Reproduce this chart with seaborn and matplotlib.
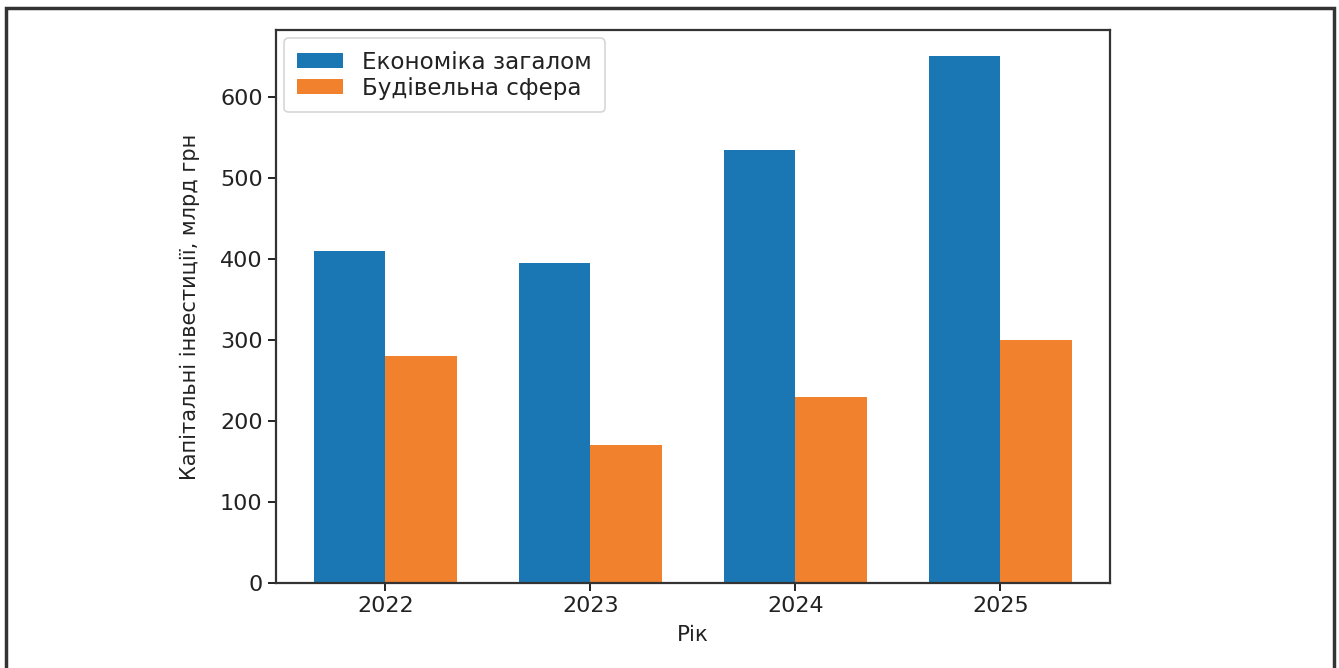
import matplotlib
matplotlib.use("Agg")
import matplotlib.pyplot as plt
from matplotlib.patches import Rectangle
import pandas as pd
import seaborn as sns

years = ["2022", "2023", "2024", "2025"]
economy = [410, 395, 535, 650]
construction = [280, 170, 230, 300]
series_names = ["Економіка загалом", "Будівельна сфера"]
colors = ["#1a77b4", "#f2812e"]

df = pd.DataFrame({
    "Рік": years * 2,
    "value": economy + construction,
    "series": [series_names[0]] * len(years) + [series_names[1]] * len(years),
})

sns.set_theme(style="ticks", rc={
    "axes.edgecolor": "#333333",
    "axes.linewidth": 1.6,
    "xtick.major.size": 6,
    "ytick.major.size": 6,
    "xtick.major.width": 1.4,
    "ytick.major.width": 1.4,
    "xtick.color": "#222222",
    "ytick.color": "#222222",
})
plt.rcParams["font.family"] = ["DejaVu Sans"]

fig = plt.figure(figsize=(13.39, 6.68), dpi=100)
ax = fig.add_axes([0.206, 0.127, 0.623, 0.828])

sns.barplot(data=df, x="Рік", y="value", hue="series", palette=colors,
            width=0.7, gap=0, saturation=1, linewidth=0, ax=ax)

ax.set_xlim(-0.535, 3.535)
ax.set_ylim(0, 682.5)
ax.set_yticks([0, 100, 200, 300, 400, 500, 600])
ax.tick_params(labelsize=16, colors="#222222")
ax.set_xlabel("Рік", fontsize=15.5, color="#222222", labelpad=6)
ax.set_ylabel("Капітальні інвестиції, млрд грн", fontsize=15, color="#222222",
              labelpad=14)
for s in ax.spines.values():
    s.set_visible(True)

leg = ax.legend(loc="upper left", fontsize=16.6, frameon=True, fancybox=True,
                edgecolor="#cccccc", handlelength=2.0, handleheight=0.6,
                borderpad=0.55, labelspacing=0.12, handletextpad=0.85,
                borderaxespad=0.35)
leg.get_frame().set_linewidth(1.2)
for t in leg.get_texts():
    t.set_color("#222222")

# outer frame around the whole picture (bottom edge cropped)
fig.add_artist(Rectangle((0.0045, -0.1), 0.9915, 1.088, transform=fig.transFigure,
                         fill=False, edgecolor="#333333", linewidth=2.5))

fig.savefig("out.png", dpi=100)
